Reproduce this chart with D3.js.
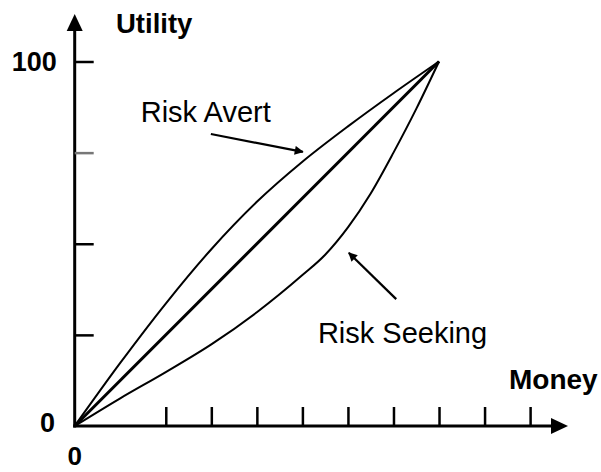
<!DOCTYPE html>
<html>
<head>
<meta charset="utf-8">
<script src="https://cdn.jsdelivr.net/npm/d3@7"></script>
<style>
  html, body { margin: 0; padding: 0; background: #fff; }
  svg { display: block; }
  text { font-family: "Liberation Sans", Arial, sans-serif; fill: #000; }
</style>
</head>
<body>
<svg id="chart" width="601" height="472"></svg>
<script>
// ---- data ----
const xTickValues = [2, 3, 4, 5, 6, 7, 8, 9, 10];
const yTickValues = [25, 50, 75, 100];
const yTickLabels = ["", "", "", "100"];

const neutralMoney = [0, 8];
const neutralUtility = [0, 100];

const avertMoney = [0, 1, 2, 3, 4, 5, 6, 7, 8];
const avertUtility = [0, 17.3, 33.6, 48.5, 61.5, 72.5, 82.2, 91.3, 100];

const seekingMoney = [0, 1, 2, 3, 4, 5, 5.5, 6, 6.5, 7, 7.5, 8];
const seekingUtility = [0, 7.6, 14.8, 22.4, 31.2, 41.4, 47, 54.5, 63.8, 75, 87, 100];

const annotations = [
  { label: "Risk Avert", tx: 1.45, ty: 83.4, from: [2.99, 80.1], to: [5.01, 75.2] },
  { label: "Risk Seeking", tx: 5.34, ty: 22.8, from: [7.06, 34.8], to: [6.02, 47.5] }
];

// ---- scales ----
const svg = d3.select("#chart");
const x = d3.scaleLinear().domain([0, 10]).range([74.7, 530.1]);
const y = d3.scaleLinear().domain([0, 100]).range([426, 61.5]);

// arrow marker for annotations
const defs = svg.append("defs");
defs.append("marker")
  .attr("id", "ah").attr("viewBox", "0 0 10 10")
  .attr("refX", 9).attr("refY", 5)
  .attr("markerWidth", 13).attr("markerHeight", 9)
  .attr("markerUnits", "userSpaceOnUse")
  .attr("orient", "auto")
  .append("path").attr("d", "M0,0 L10,5 L0,10 Z").attr("fill", "#000");

// ---- axes lines ----
const x0 = x(0), y0 = y(0);
svg.append("line").attr("x1", x0).attr("y1", y0 + 1.5).attr("x2", x0).attr("y2", 30)
  .attr("stroke", "#000").attr("stroke-width", 3);
svg.append("path").attr("d", `M${x0},14 L${x0 - 8},31 L${x0 + 8},31 Z`).attr("fill", "#000");

svg.append("line").attr("x1", x0 - 1.5).attr("y1", y0).attr("x2", 553).attr("y2", y0)
  .attr("stroke", "#000").attr("stroke-width", 3);
svg.append("path").attr("d", `M568,${y0} L551,${y0 - 8} L551,${y0 + 8} Z`).attr("fill", "#000");

// ---- ticks via d3 axes ----
const yAxis = d3.axisLeft(y).tickValues(yTickValues).tickSize(-19).tickPadding(18)
  .tickFormat((d, i) => yTickLabels[i]);
const gy = svg.append("g").attr("transform", `translate(${x0},0)`).call(yAxis);
gy.select(".domain").remove();
gy.selectAll(".tick line").attr("stroke", (d) => d === 75 ? "#777" : "#000").attr("stroke-width", 2.5);
gy.selectAll(".tick text").style("font-size", "27px").style("font-weight", "bold")
  .attr("fill", "#000").style("font-family", "'Liberation Sans', Arial, sans-serif");

const xAxis = d3.axisBottom(x).tickValues(xTickValues).tickSize(-19).tickFormat("");
const gx = svg.append("g").attr("transform", `translate(0,${y0})`).call(xAxis);
gx.select(".domain").remove();
gx.selectAll(".tick line").attr("stroke", "#000").attr("stroke-width", 2.5);

// ---- axis labels ----
svg.append("text").attr("x", 116).attr("y", 33).text("Utility")
  .style("font-size", "27.5px").style("font-weight", "bold");
svg.append("text").attr("x", 509).attr("y", 389).text("Money")
  .style("font-size", "28px").style("font-weight", "bold");
svg.append("text").attr("x", 55).attr("y", y0 + 6).attr("text-anchor", "end").text("0")
  .style("font-size", "27px").style("font-weight", "bold");
svg.append("text").attr("x", x0).attr("y", 465).attr("text-anchor", "middle").text("0")
  .style("font-size", "26px").style("font-weight", "bold");

// ---- curves ----
const line = d3.line().x(d => x(d[0])).y(d => y(d[1])).curve(d3.curveMonotoneX);
const zip = (a, b) => a.map((v, i) => [v, b[i]]);

svg.append("path").datum(zip(neutralMoney, neutralUtility))
  .attr("d", d3.line().x(d => x(d[0])).y(d => y(d[1])))
  .attr("fill", "none").attr("stroke", "#000").attr("stroke-width", 3);
svg.append("path").datum(zip(avertMoney, avertUtility)).attr("d", line)
  .attr("fill", "none").attr("stroke", "#000").attr("stroke-width", 2);
svg.append("path").datum(zip(seekingMoney, seekingUtility)).attr("d", line)
  .attr("fill", "none").attr("stroke", "#000").attr("stroke-width", 2);

// ---- annotations ----
annotations.forEach(a => {
  svg.append("text").attr("x", x(a.tx)).attr("y", y(a.ty)).text(a.label)
    .style("font-size", "29px");
  svg.append("line")
    .attr("x1", x(a.from[0])).attr("y1", y(a.from[1]))
    .attr("x2", x(a.to[0])).attr("y2", y(a.to[1]))
    .attr("stroke", "#000").attr("stroke-width", 2.2)
    .attr("marker-end", "url(#ah)");
});
</script>
</body>
</html>
